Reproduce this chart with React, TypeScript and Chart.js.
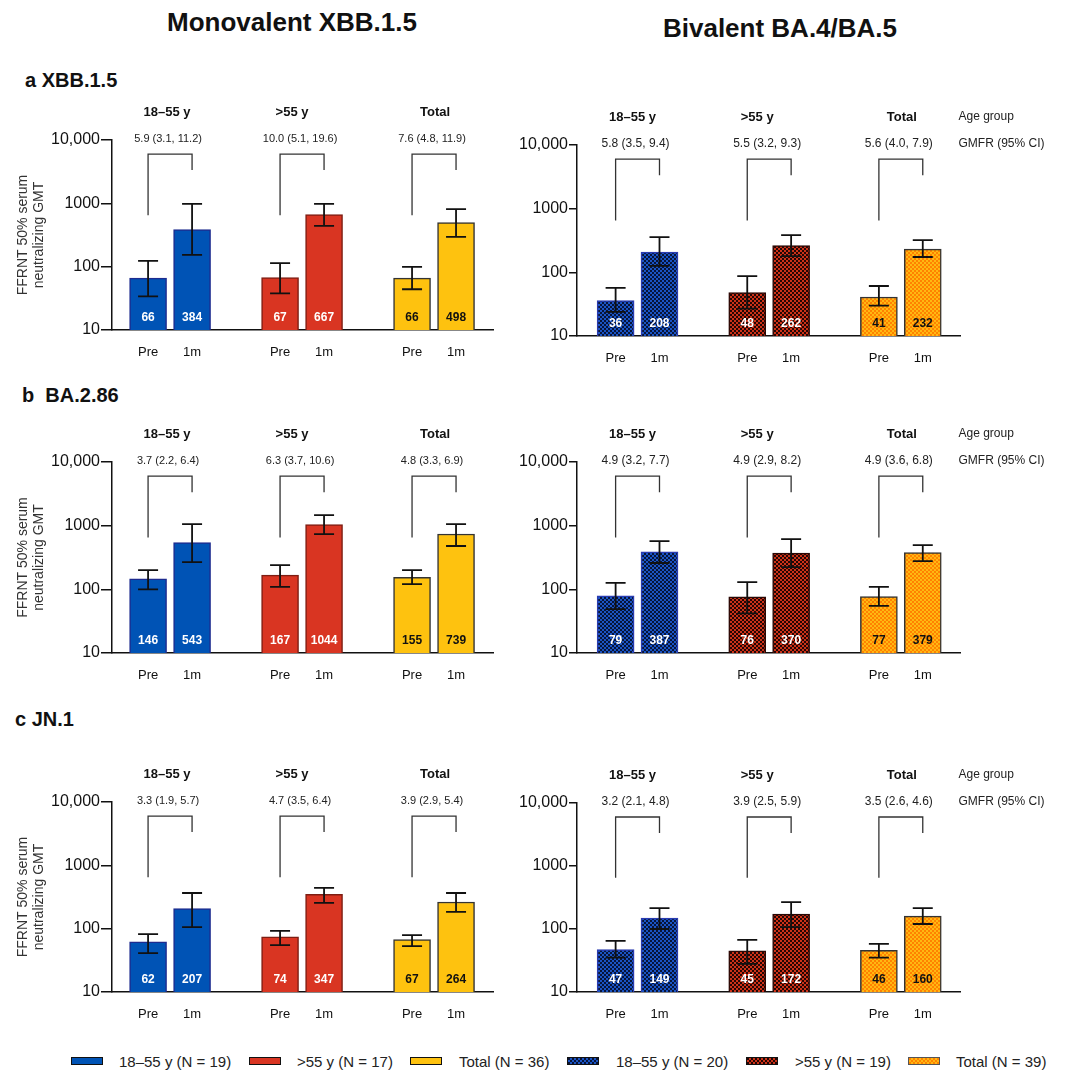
import React, { useEffect, useRef } from 'react';
import { Chart, registerables } from 'chart.js';

Chart.register(...registerables);

const FONT = '"Liberation Sans", Arial, Helvetica, sans-serif';

// ---------- data ----------
const AGE_GROUPS = ['18–55 y', '>55 y', 'Total'];
const TIMEPOINTS = ['Pre', '1m'];
const Y_TICKS = [10, 100, 1000, 10000];
const Y_TICK_LABELS = ['10', '100', '1000', '10,000'];
const BRACKET_TOP = 6000;
const BRACKET_PRE_END = 650;
const BRACKET_POST_END = 3350;

// a XBB.1.5 — Monovalent XBB.1.5 (order: 18–55 Pre, 1m, >55 Pre, 1m, Total Pre, 1m)
const MONO_XBB_GMT = [66, 384, 67, 667, 66, 498];
const MONO_XBB_LO = [34, 153, 38, 440, 44, 295];
const MONO_XBB_HI = [123, 980, 114, 980, 99, 810];
const MONO_XBB_GMFR = ['5.9 (3.1, 11.2)', '10.0 (5.1, 19.6)', '7.6 (4.8, 11.9)'];
// a XBB.1.5 — Bivalent BA.4/BA.5
const BIV_XBB_GMT = [36, 208, 48, 262, 41, 232];
const BIV_XBB_LO = [24, 126, 27, 180, 30, 174];
const BIV_XBB_HI = [57, 358, 87, 385, 61, 321];
const BIV_XBB_GMFR = ['5.8 (3.5, 9.4)', '5.5 (3.2, 9.3)', '5.6 (4.0, 7.9)'];

// b BA.2.86
const MONO_BA286_GMT = [146, 543, 167, 1044, 155, 739];
const MONO_BA286_LO = [100, 268, 109, 738, 121, 479];
const MONO_BA286_HI = [201, 1060, 240, 1465, 201, 1060];
const MONO_BA286_GMFR = ['3.7 (2.2, 6.4)', '6.3 (3.7, 10.6)', '4.8 (3.3, 6.9)'];
const BIV_BA286_GMT = [79, 387, 76, 370, 77, 379];
const BIV_BA286_LO = [49, 259, 42, 224, 55, 278];
const BIV_BA286_HI = [126, 573, 130, 616, 109, 495];
const BIV_BA286_GMFR = ['4.9 (3.2, 7.7)', '4.9 (2.9, 8.2)', '4.9 (3.6, 6.8)'];

// c JN.1
const MONO_JN1_GMT = [62, 207, 74, 347, 67, 264];
const MONO_JN1_LO = [41, 106, 55, 255, 53, 184];
const MONO_JN1_HI = [82, 366, 92, 440, 79, 366];
const MONO_JN1_GMFR = ['3.3 (1.9, 5.7)', '4.7 (3.5, 6.4)', '3.9 (2.9, 5.4)'];
const BIV_JN1_GMT = [47, 149, 45, 172, 46, 160];
const BIV_JN1_LO = [35, 100, 28, 107, 35, 120];
const BIV_JN1_HI = [65, 215, 67, 268, 58, 215];
const BIV_JN1_GMFR = ['3.2 (2.1, 4.8)', '3.9 (2.5, 5.9)', '3.5 (2.6, 4.6)'];

const LEGEND_LABELS = [
  '18–55 y (N = 19)', '>55 y (N = 17)', 'Total (N = 36)',
  '18–55 y (N = 20)', '>55 y (N = 19)', 'Total (N = 39)',
];

// ---------- styles ----------
const MONO_FILL = ['#0053b5', '#d93522', '#fec20f'];
const MONO_BORDER = ['#1d2b8f', '#7e1e13', '#333333'];
const BIV_CHECK = [
  ['#07143a', '#1a54c4'],
  ['#240604', '#cc3218'],
  ['#ff8200', '#ffb812'],
];
const BIV_BORDER = ['#2a3bb0', '#2a0805', '#333333'];
const LABEL_COLOR = ['#ffffff', '#ffffff', '#111111'];

function checker(a: string, b: string): CanvasPattern {
  const c = document.createElement('canvas');
  c.width = 4;
  c.height = 4;
  const g = c.getContext('2d')!;
  g.fillStyle = a;
  g.fillRect(0, 0, 4, 4);
  g.fillStyle = b;
  g.fillRect(0, 0, 2, 2);
  g.fillRect(2, 2, 2, 2);
  return g.createPattern(c, 'repeat')!;
}

type Side = {
  left: number;
  width: number;
  yWidth: number;
  padRight: number;
  xMin: number;
  xMax: number;
  tickLen: number;
  yTitle: boolean;
  gmfrSize: number;
  ageOffsets: number[];
  sideLabels: boolean;
  tickFont: number;
};

const LEFT_SIDE: Side = {
  left: 0, width: 500, yWidth: 112, padRight: 7, xMin: -0.82, xMax: 7.84, tickLen: 11,
  yTitle: true, gmfrSize: 11, ageOffsets: [-3, -10, 1], sideLabels: false, tickFont: 16,
};
const RIGHT_SIDE: Side = {
  left: 500, width: 565, yWidth: 77, padRight: 104.5, xMin: -0.88, xMax: 7.86, tickLen: 8,
  yTitle: false, gmfrSize: 12, ageOffsets: [-5, -12, 1], sideLabels: true, tickFont: 16,
};

type PanelSpec = {
  side: Side;
  bivalent: boolean;
  areaTop: number;
  areaBottom: number;
  gmt: number[];
  lo: number[];
  hi: number[];
  gmfr: string[];
};

const PAD_TOP = 55;
const X_AXIS_H = 40;

const barX = (i: number) => Math.floor(i / 2) * 3 + (i % 2);

function Panel({ spec }: { spec: PanelSpec }) {
  const ref = useRef<HTMLCanvasElement>(null);
  const S = spec.side;
  const height = PAD_TOP + (spec.areaBottom - spec.areaTop) + X_AXIS_H;

  useEffect(() => {
    const canvas = ref.current!;
    const groupOf = (i: number) => Math.floor(i / 2);
    const fills = spec.gmt.map((_, i) =>
      spec.bivalent ? checker(BIV_CHECK[groupOf(i)][0], BIV_CHECK[groupOf(i)][1]) : MONO_FILL[groupOf(i)]
    );
    const borders = spec.gmt.map((_, i) => (spec.bivalent ? BIV_BORDER : MONO_BORDER)[groupOf(i)]);
    const points = spec.gmt.map((v, i) => ({ x: barX(i), y: v }));
    const xPositions = spec.gmt.map((_, i) => barX(i));

    const overlay = {
      id: 'overlay',
      afterDatasetsDraw(chart: any) {
        const { ctx, chartArea } = chart;
        const x = chart.scales.x;
        const y = chart.scales.y;
        const meta = chart.getDatasetMeta(0);
        ctx.save();
        // error bars
        ctx.strokeStyle = '#111';
        ctx.lineWidth = 1.8;
        meta.data.forEach((bar: any, i: number) => {
          const px = bar.x;
          const yl = y.getPixelForValue(spec.lo[i]);
          const yh = y.getPixelForValue(spec.hi[i]);
          ctx.beginPath();
          ctx.moveTo(px, yl);
          ctx.lineTo(px, yh);
          ctx.moveTo(px - 10, yl);
          ctx.lineTo(px + 10, yl);
          ctx.moveTo(px - 10, yh);
          ctx.lineTo(px + 10, yh);
          ctx.stroke();
        });
        // value labels
        ctx.font = `bold 12px ${FONT}`;
        ctx.textAlign = 'center';
        ctx.textBaseline = 'middle';
        meta.data.forEach((bar: any, i: number) => {
          ctx.fillStyle = LABEL_COLOR[groupOf(i)];
          ctx.fillText(String(spec.gmt[i]), bar.x, chartArea.bottom - 12);
        });
        // brackets
        ctx.strokeStyle = '#333';
        ctx.lineWidth = 1.3;
        AGE_GROUPS.forEach((_, g) => {
          const xa = x.getPixelForValue(g * 3);
          const xb = x.getPixelForValue(g * 3 + 1);
          const yt = y.getPixelForValue(BRACKET_TOP);
          ctx.beginPath();
          ctx.moveTo(xa, y.getPixelForValue(BRACKET_PRE_END));
          ctx.lineTo(xa, yt);
          ctx.lineTo(xb, yt);
          ctx.lineTo(xb, y.getPixelForValue(BRACKET_POST_END));
          ctx.stroke();
        });
        // GMFR and age-group texts
        AGE_GROUPS.forEach((label, g) => {
          const cx = x.getPixelForValue(g * 3 + 0.5);
          ctx.fillStyle = '#222';
          ctx.font = `${S.gmfrSize}px ${FONT}`;
          ctx.fillText(spec.gmfr[g], cx - 2, chartArea.top - 1);
          ctx.fillStyle = '#111';
          ctx.font = `bold 13px ${FONT}`;
          ctx.fillText(label, cx + S.ageOffsets[g], chartArea.top - 28);
        });
        if (S.sideLabels) {
          ctx.textAlign = 'left';
          ctx.fillStyle = '#222';
          ctx.font = `12px ${FONT}`;
          ctx.fillText('Age group', chartArea.right - 2, chartArea.top - 28);
          ctx.fillText('GMFR (95% CI)', chartArea.right - 2, chartArea.top - 1);
        }
        ctx.restore();
      },
    };

    const chart = new Chart(canvas, {
      type: 'bar',
      data: {
        datasets: [
          {
            data: points as any,
            backgroundColor: fills as any,
            borderColor: borders,
            borderWidth: 1.5,
            barThickness: 37,
          },
        ],
      },
      options: {
        responsive: false,
        animation: false,
        layout: { padding: { top: PAD_TOP, right: S.padRight, left: 0, bottom: 0 } },
        plugins: { legend: { display: false }, tooltip: { enabled: false } },
        scales: {
          x: {
            type: 'linear',
            offset: false,
            min: S.xMin,
            max: S.xMax,
            afterFit: (s: any) => {
              s.height = X_AXIS_H;
            },
            afterBuildTicks: (s: any) => {
              s.ticks = xPositions.map((v) => ({ value: v }));
            },
            ticks: {
              autoSkip: false,
              maxRotation: 0,
              padding: 15,
              color: '#111',
              font: { family: FONT, size: 13 },
              callback: (v: any) => TIMEPOINTS[Number(v) % 3] ?? '',
            },
            grid: { display: false, drawTicks: false, offset: false },
            border: { display: true, color: '#111', width: 1.5 },
          },
          y: {
            type: 'logarithmic',
            min: 10,
            max: 10000,
            afterFit: (s: any) => {
              s.width = S.yWidth;
            },
            afterBuildTicks: (s: any) => {
              s.ticks = Y_TICKS.map((v) => ({ value: v }));
            },
            ticks: {
              padding: 1,
              color: '#111',
              font: { family: FONT, size: S.tickFont },
              callback: (v: any) => Y_TICK_LABELS[Y_TICKS.indexOf(Number(v))] ?? '',
            },
            grid: {
              display: true,
              drawOnChartArea: false,
              drawTicks: true,
              tickLength: S.tickLen,
              color: '#111',
              lineWidth: 1.5,
            },
            border: { display: true, color: '#111', width: 1.5 },
            title: {
              display: S.yTitle,
              text: ['FFRNT 50% serum', 'neutralizing GMT'],
              color: '#333',
              font: { family: FONT, size: 14, lineHeight: 1.15 },
              padding: { top: 15, bottom: 0 },
            },
          },
        },
      },
      plugins: [overlay],
    });
    return () => chart.destroy();
  }, []);

  return (
    <canvas
      ref={ref}
      width={S.width}
      height={height}
      style={{ position: 'absolute', left: S.left, top: spec.areaTop - PAD_TOP, width: S.width, height }}
    />
  );
}

const PANELS: PanelSpec[] = [
  { side: LEFT_SIDE, bivalent: false, areaTop: 140, areaBottom: 330, gmt: MONO_XBB_GMT, lo: MONO_XBB_LO, hi: MONO_XBB_HI, gmfr: MONO_XBB_GMFR },
  { side: RIGHT_SIDE, bivalent: true, areaTop: 145, areaBottom: 336, gmt: BIV_XBB_GMT, lo: BIV_XBB_LO, hi: BIV_XBB_HI, gmfr: BIV_XBB_GMFR },
  { side: LEFT_SIDE, bivalent: false, areaTop: 462, areaBottom: 653, gmt: MONO_BA286_GMT, lo: MONO_BA286_LO, hi: MONO_BA286_HI, gmfr: MONO_BA286_GMFR },
  { side: RIGHT_SIDE, bivalent: true, areaTop: 462, areaBottom: 653, gmt: BIV_BA286_GMT, lo: BIV_BA286_LO, hi: BIV_BA286_HI, gmfr: BIV_BA286_GMFR },
  { side: LEFT_SIDE, bivalent: false, areaTop: 802, areaBottom: 992, gmt: MONO_JN1_GMT, lo: MONO_JN1_LO, hi: MONO_JN1_HI, gmfr: MONO_JN1_GMFR },
  { side: RIGHT_SIDE, bivalent: true, areaTop: 803, areaBottom: 992, gmt: BIV_JN1_GMT, lo: BIV_JN1_LO, hi: BIV_JN1_HI, gmfr: BIV_JN1_GMFR },
];

const ROW_TITLES = [
  { text: 'a XBB.1.5', left: 25, top: 80 },
  { text: 'b\u00a0\u00a0BA.2.86', left: 22, top: 395 },
  { text: 'c JN.1', left: 15, top: 719 },
];

const LEGEND_POS = [
  { box: 71, text: 119 },
  { box: 249, text: 297 },
  { box: 410, text: 459 },
  { box: 567, text: 616 },
  { box: 746, text: 795 },
  { box: 908, text: 956 },
];

function legendBg(i: number): string {
  if (i < 3) return MONO_FILL[i];
  const [a, b] = BIV_CHECK[i - 3];
  return `repeating-conic-gradient(${b} 0% 25%, ${a} 0% 50%) 0 0 / 4px 4px`;
}

export default function App() {
  return (
    <div
      style={{
        position: 'absolute',
        left: 0,
        top: 0,
        width: 1065,
        height: 1073,
        background: '#fff',
        fontFamily: FONT,
        color: '#111',
        overflow: 'hidden',
      }}
    >
      <div style={{ position: 'absolute', left: 292, top: 22, transform: 'translate(-50%, -50%)', fontWeight: 'bold', fontSize: 26, whiteSpace: 'nowrap' }}>
        Monovalent XBB.1.5
      </div>
      <div style={{ position: 'absolute', left: 780, top: 28, transform: 'translate(-50%, -50%)', fontWeight: 'bold', fontSize: 26, whiteSpace: 'nowrap' }}>
        Bivalent BA.4/BA.5
      </div>
      {ROW_TITLES.map((r) => (
        <div key={r.text} style={{ position: 'absolute', left: r.left, top: r.top, transform: 'translateY(-50%)', fontWeight: 'bold', fontSize: 20, whiteSpace: 'nowrap' }}>
          {r.text}
        </div>
      ))}
      {PANELS.map((p, i) => (
        <Panel key={i} spec={p} />
      ))}
      {LEGEND_LABELS.map((label, i) => (
        <React.Fragment key={label + i}>
          <div
            style={{
              position: 'absolute',
              left: LEGEND_POS[i].box,
              top: 1057,
              width: 30,
              height: 6,
              border: `1px solid ${i === 5 ? '#555' : '#111'}`,
              background: legendBg(i),
            }}
          />
          <div style={{ position: 'absolute', left: LEGEND_POS[i].text, top: 1061, transform: 'translateY(-50%)', fontSize: 15, whiteSpace: 'nowrap', color: '#222' }}>
            {label}
          </div>
        </React.Fragment>
      ))}
    </div>
  );
}
